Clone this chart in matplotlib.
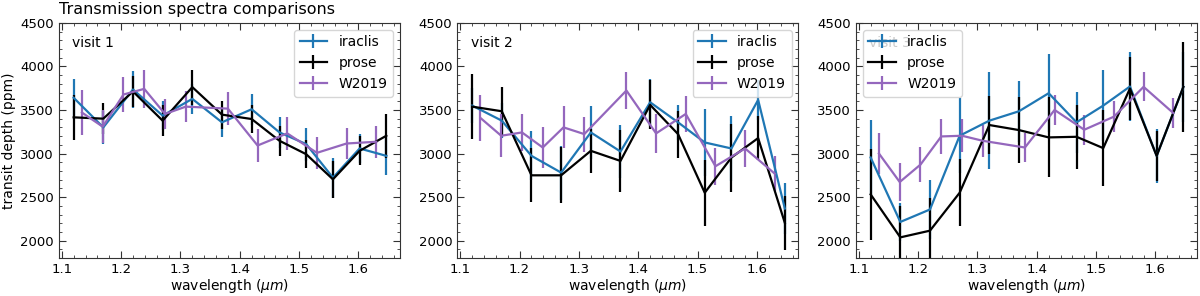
import matplotlib
matplotlib.use('Agg')
import matplotlib.pyplot as plt
from matplotlib.ticker import AutoMinorLocator

# wavelength bins
wl = [1.12, 1.17, 1.22, 1.27, 1.32, 1.37, 1.42, 1.467, 1.512, 1.557, 1.602, 1.647]
wl_w19 = [1.134, 1.169, 1.204, 1.239, 1.274, 1.309, 1.38, 1.43, 1.48, 1.53, 1.58, 1.63]

# visit 1
irac1 = [3640, 3300, 3735, 3435, 3627, 3358, 3508, 3242, 3108, 2723, 3058, 2973]
irac1_err = [210, 190, 215, 170, 170, 170, 180, 180, 190, 230, 170, 220]
prose1 = [3415, 3400, 3712, 3377, 3762, 3446, 3396, 3146, 2992, 2704, 3031, 3204]
prose1_err = [260, 180, 175, 180, 200, 160, 160, 170, 160, 210, 165, 255]
w19_1 = [3470, 3308, 3677, 3742, 3454, 3538, 3515, 3092, 3231, 3008, 3115, 3135]
w19_1_err = [255, 190, 205, 220, 175, 175, 190, 190, 190, 180, 180, 185]

# visit 2
irac2 = [3550, 3377, 2973, 2781, 3242, 3023, 3588, 3358, 3127, 3058, 3615, 2369]
irac2_err = [200, 200, 280, 310, 300, 300, 270, 200, 385, 375, 230, 290]
prose2 = [3538, 3485, 2750, 2750, 3031, 2915, 3558, 3223, 2550, 2954, 3177, 2204]
prose2_err = [370, 280, 310, 320, 250, 355, 280, 270, 380, 390, 255, 310]
w19_2 = [3408, 3204, 3242, 3069, 3300, 3223, 3723, 3231, 3454, 2854, 3058, 2769]
w19_2_err = [265, 245, 215, 235, 240, 200, 215, 220, 210, 215, 210, 200]

# visit 3
irac3 = [2954, 2215, 2358, 3204, 3377, 3485, 3692, 3358, 3550, 3769, 2973, 3762]
irac3_err = [430, 220, 335, 430, 560, 350, 445, 350, 410, 395, 310, 400]
prose3 = [2531, 2038, 2115, 2550, 3327, 3269, 3185, 3192, 3062, 3746, 2973, 3765]
prose3_err = [520, 360, 380, 385, 330, 375, 460, 365, 440, 360, 290, 515]
w19_3 = [3000, 2673, 2873, 3196, 3204, 3146, 3069, 3500, 3273, 3423, 3765, 3465]
w19_3_err = [235, 220, 205, 200, 190, 185, 170, 170, 170, 180, 165, 170]

visits = [
    (irac1, irac1_err, prose1, prose1_err, w19_1, w19_1_err, 'upper right'),
    (irac2, irac2_err, prose2, prose2_err, w19_2, w19_2_err, 'upper right'),
    (irac3, irac3_err, prose3, prose3_err, w19_3, w19_3_err, 'upper left'),
]

plt.rcParams['font.size'] = 9.5
fig, axes = plt.subplots(1, 3, figsize=(12, 2.96), dpi=100)
fig.subplots_adjust(left=0.049, right=0.9975, bottom=0.128, top=0.923, wspace=0.168)

for i, (ax, v) in enumerate(zip(axes, visits)):
    ir, ire, pr, pre, w, we, loc = v
    ax.errorbar(wl, ir, yerr=ire, color='#1f77b4', lw=1.6, label='iraclis')
    ax.errorbar(wl, pr, yerr=pre, color='black', lw=1.6, label='prose')
    ax.errorbar(wl_w19, w, yerr=we, color='#9467bd', lw=1.6, label='W2019')
    ax.text(0.04, 0.945, 'visit %d' % (i + 1), transform=ax.transAxes,
            va='top', ha='left', fontsize=10)
    ax.set_ylim(1800, 4500)
    ax.set_xlim(1.095, 1.67)
    ax.set_xlabel(r'wavelength ($\mu m$)', fontsize=10, labelpad=0.5)
    ax.xaxis.set_minor_locator(AutoMinorLocator())
    ax.yaxis.set_minor_locator(AutoMinorLocator())
    ax.tick_params(which='both', direction='in', top=True, right=True, color='#333333')
    ax.tick_params(which='major', length=5)
    ax.tick_params(which='minor', length=2.5)
    for s in ax.spines.values():
        s.set_color('#333333')
    ax.legend(loc=loc, fontsize=10)

axes[0].set_ylabel('transit depth (ppm)', fontsize=10, labelpad=3)
axes[0].set_title('Transmission spectra comparisons', loc='left', fontsize=11.5)

plt.savefig('out.png')
print("Plot saved")
